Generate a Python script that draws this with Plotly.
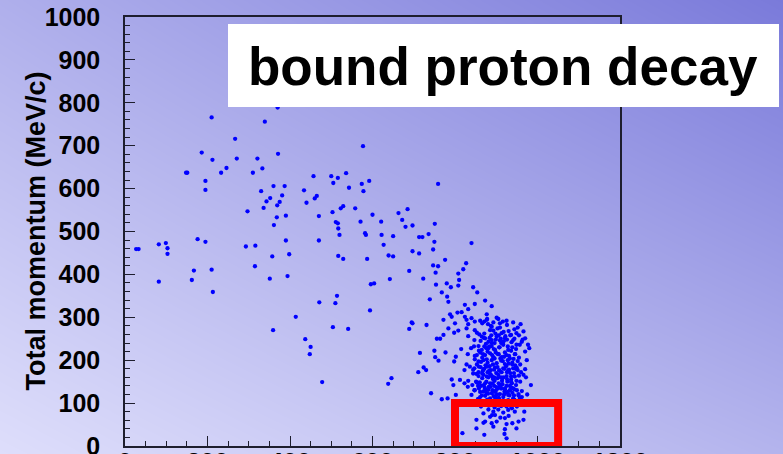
import plotly.graph_objects as go

# ---------------- data ----------------
# invariant mass (MeV/c^2) vs total momentum (MeV/c)
scatter_x = [
    27, 33, 82, 99, 103, 103, 82, 148, 151, 176, 195, 167, 162, 210,
    210, 339, 370, 267, 186, 212, 271, 321, 371, 233, 246, 310, 333, 195, 195,
    360, 387, 330, 352, 343, 381, 375, 369, 336, 297, 368, 390, 361,
    434, 457, 440, 460, 465, 470, 500, 505, 516, 536, 543, 577, 574, 578, 592,
    503, 523, 529, 558, 511, 516, 517, 520, 571, 582, 584, 600, 621, 622, 627, 650, 663,
    639, 650, 587, 529, 517, 470, 398, 390, 357, 316, 293, 315, 351, 394, 642,
    213, 359, 414, 759, 672, 685, 680, 697, 713, 721, 736, 751, 750, 747, 697, 713,
    596, 604, 689, 723, 747, 759, 776, 827, 840, 820,
    514, 510, 471, 594, 504, 541, 437, 450, 448, 478,
    695, 697, 689, 646, 638, 715, 724, 711,
]
scatter_y = [
    459, 459, 470, 473, 461, 448, 383, 637, 637, 482, 476, 409, 387, 411,
    766, 756, 789, 716, 684, 667, 670, 670, 681, 637, 648, 637, 647, 618, 597,
    606, 606, 594, 578, 570, 584, 569, 561, 555, 547, 533, 537, 515,
    596, 629, 567, 577, 583, 536, 629, 613, 625, 636, 602, 699, 611, 594, 618,
    545, 554, 559, 554, 522, 519, 507, 492, 523, 496, 492, 539, 523, 492, 469, 489, 543,
    444, 442, 436, 436, 443, 479, 447, 479, 442, 467, 465, 419, 390, 396, 389,
    359, 270, 301, 611, 527, 552, 511, 514, 487, 487, 494, 518, 476, 458, 454, 449,
    377, 379, 408, 390, 421, 419, 434, 426, 473, 412,
    350, 333, 335, 316, 277, 273, 249, 231, 214, 149,
    288, 286, 273, 158, 145, 217, 183, 172,
]

cluster_x = [
    753, 808, 810, 808, 754, 780, 790, 768, 781, 844, 854, 739, 784, 824, 832, 848, 873, 889,
    806, 816, 788, 792, 824, 840, 877, 901, 909, 925, 959, 772, 731, 800, 828, 832, 848, 861,
    871, 877, 784, 808, 798, 828, 848, 853, 889, 893, 913, 936, 949, 966, 756, 764, 772, 832,
    847, 865, 873, 881, 889, 901, 909, 921, 941, 962, 970, 815, 839, 857, 865, 871, 881, 889,
    897, 907, 917, 929, 939, 949, 980, 750, 777, 831, 853, 861, 873, 885, 893, 904, 913, 925,
    933, 945, 970, 752, 802, 848, 857, 869, 879, 889, 901, 912, 921, 939, 958, 974, 760, 798,
    828, 836, 847, 858, 869, 877, 887, 897, 907, 917, 929, 941, 952, 970, 730, 823, 844, 857,
    866, 877, 885, 895, 905, 915, 925, 936, 945, 966, 792, 812, 823, 832, 842, 853, 863, 873,
    882, 891, 901, 912, 921, 933, 944, 984, 796, 831, 848, 858, 869, 881, 889, 899, 909, 920,
    929, 939, 954, 742, 768, 782, 802, 840, 861, 873, 885, 897, 907, 917, 929, 941, 962, 877,
    889, 901, 912, 923, 936, 958, 863, 881, 893, 905, 917, 929, 945, 968, 869, 885, 897, 921,
    873, 889, 901, 925, 939, 954, 966, 852, 869, 893, 921, 949, 852, 818, 871, 920, 925,
    862, 875, 884, 896, 906, 918, 928, 937, 948, 957,
    858, 868, 879, 890, 899, 910, 921, 931, 942, 952,
    853, 863, 874, 883, 892, 903, 913, 924, 934, 946,
    857, 866, 876, 887, 896, 906, 917, 927, 938, 949,
    851, 861, 872, 880, 891, 902, 912, 922, 933, 943,
    856, 866, 878, 888, 898, 908, 918, 931, 940, 952,
    846, 871, 885, 903, 918, 926, 944, 955, 964, 977,
    848, 859, 883, 894, 908, 916, 930, 947, 960, 972,
    844, 852, 867, 879, 890, 900, 911, 926, 936, 958,
    847, 856, 870, 885, 895, 904, 915, 925, 937, 950,
    865, 876, 894, 906, 919, 928, 941, 954, 962, 975,
    880, 893, 905, 898, 911, 922, 934, 944, 889, 876,
    866, 878, 887, 909, 930, 941, 952, 916, 870, 888,
    899, 912, 926, 936, 946, 955, 866, 877, 896, 906,
    919, 928, 939, 950, 862, 871, 884, 895, 908, 920,
    931, 943, 955, 869, 881, 892, 903, 914, 926, 936,
    948, 860, 874, 886, 897, 909, 921, 932, 944, 957,
    868, 882, 896, 911, 925, 938, 950, 890, 910, 930,
]
cluster_y = [
    404, 402, 387, 374, 376, 379, 370, 358, 348, 370, 358, 342, 336, 329, 319, 331, 339, 326,
    311, 312, 307, 301, 301, 298, 307, 299, 286, 292, 284, 294, 282, 286, 294, 284, 290, 292,
    290, 294, 274, 269, 264, 274, 270, 264, 278, 269, 263, 259, 263, 267, 250, 250, 259, 256,
    247, 255, 251, 243, 247, 255, 246, 251, 247, 243, 251, 226, 228, 233, 224, 232, 228, 233,
    224, 230, 236, 224, 230, 236, 228, 222, 218, 214, 212, 218, 212, 216, 207, 214, 207, 212,
    204, 214, 220, 207, 208, 202, 197, 200, 194, 200, 193, 199, 191, 194, 190, 200, 199, 197,
    190, 185, 181, 185, 179, 185, 177, 183, 176, 181, 176, 181, 177, 179, 177, 177, 169, 163,
    169, 162, 168, 160, 166, 158, 163, 155, 162, 166, 155, 154, 146, 152, 142, 148, 140, 146,
    138, 146, 137, 142, 134, 140, 132, 142, 142, 138, 130, 134, 127, 131, 123, 129, 121, 127,
    119, 124, 121, 123, 109, 111, 119, 119, 114, 117, 111, 115, 109, 114, 107, 111, 114, 101,
    96, 101, 93, 100, 92, 96, 92, 85, 80, 85, 78, 84, 80, 80, 76, 68, 72, 65,
    57, 53, 57, 51, 53, 57, 61, 61, 54, 45, 39, 41, 41, 30, 26, 28, 18,
    245, 238, 252, 240, 258, 244, 232, 242, 226, 236,
    222, 214, 220, 212, 218, 204, 218, 210, 203, 198,
    190, 196, 188, 176, 190, 184, 172, 186, 170, 188,
    172, 158, 150, 166, 152, 146, 160, 150, 146, 152,
    150, 126, 136, 122, 130, 120, 134, 124, 130, 118,
    110, 104, 108, 102, 110, 100, 105, 102, 98, 104,
    232, 262, 270, 274, 266, 282, 272, 258, 248, 236,
    210, 260, 232, 226, 230, 198, 192, 180, 172, 160,
    178, 168, 174, 172, 162, 170, 160, 172, 162, 150,
    130, 140, 142, 146, 140, 134, 144, 140, 136, 130,
    118, 124, 116, 112, 120, 126, 134, 118, 128, 120,
    284, 288, 296, 262, 250, 256, 258, 250, 240, 228,
    286, 296, 280, 276, 268, 288, 276, 290, 252, 258,
    248, 240, 248, 222, 214, 206, 206, 202, 204, 214,
    208, 200, 190, 182, 184, 180, 186, 178, 176, 180,
    178, 170, 164, 166, 160, 156, 158, 152, 156, 150,
    142, 148, 132, 138, 126, 140, 132, 118, 108, 112,
    96, 94, 90, 94, 92, 88, 92, 72, 66, 70,
]

points_x = scatter_x + cluster_x
points_y = scatter_y + cluster_y

x_ticks = [0, 200, 400, 600, 800, 1000, 1200]
y_ticks = [0, 100, 200, 300, 400, 500, 600, 700, 800, 900, 1000]
y_title = "Total momentum (MeV/c)"
title_text = "bound proton decay"
signal_box = dict(x0=800, x1=1050, y0=0, y1=100)

# background gradient corners: [bottom-left, bottom-right], [top-left, top-right]
bg_z = [[0.0, 0.42], [0.47, 1.0]]

# ---------------- figure ----------------
W, H = 783, 454
px_l, px_r, px_t, px_b = 125, 620, 17, 446
FONT = "Liberation Sans, Arial, Helvetica, sans-serif"

fig = go.Figure()

fig.add_trace(go.Heatmap(
    x=[0, 1], y=[0, 1], z=bg_z, zsmooth="best", showscale=False,
    colorscale=[[0, "rgb(222,222,251)"], [1, "rgb(122,122,218)"]],
    hoverinfo="skip", xaxis="x", yaxis="y",
))

fig.add_trace(go.Scatter(
    x=points_x, y=points_y, mode="markers",
    marker=dict(color="#0000ff", size=4.3, line=dict(width=0)),
    xaxis="x2", yaxis="y2", showlegend=False, cliponaxis=True,
))

axis_common = dict(
    showgrid=False, zeroline=False, showline=True, linecolor="#1e1e2e",
    linewidth=1.5, mirror=True, ticks="inside", ticklen=10, tickwidth=1.3,
    tickcolor="#1e1e2e", automargin=False, ticklabeloverflow="allow",
    tickfont=dict(family=FONT, size=25, color="#000000", weight="bold"),
)

fig.update_layout(
    width=W, height=H, autosize=False,
    margin=dict(l=0, r=0, t=0, b=0, pad=0, autoexpand=False),
    paper_bgcolor="#ffffff",
    plot_bgcolor="rgba(0,0,0,0)",
    showlegend=False,
    xaxis=dict(domain=[0, 1], range=[0, 1], visible=False, fixedrange=True, automargin=False),
    yaxis=dict(domain=[0, 1], range=[0, 1], visible=False, fixedrange=True, automargin=False),
    xaxis2=dict(
        domain=[px_l / W, px_r / W], range=[0, 1200], anchor="y2",
        tickvals=x_ticks, ticktext=[str(v) for v in x_ticks],
        minor=dict(ticks="inside", ticklen=5, dtick=50, tickcolor="#1e1e2e", showgrid=False),
        ticklabelstandoff=-7,
        **axis_common,
    ),
    yaxis2=dict(
        domain=[(H - px_b) / H, (H - px_t) / H], range=[0, 1000], anchor="x2",
        tickvals=y_ticks, ticktext=[str(v) for v in y_ticks],
        minor=dict(ticks="inside", ticklen=5, dtick=20, tickcolor="#1e1e2e", showgrid=False),
        ticklabelstandoff=18,
        **axis_common,
    ),
)

# red signal box
fig.add_shape(type="rect", xref="x2", yref="y2", layer="above",
              line=dict(color="#ff0000", width=8), fillcolor="rgba(0,0,0,0)",
              **signal_box)

# white title box
bx0, bx1, by0, by1 = 228, 779, 24, 107
fig.add_shape(type="rect", xref="paper", yref="paper", layer="above",
              x0=bx0 / W, x1=bx1 / W, y0=1 - by1 / H, y1=1 - by0 / H,
              line=dict(width=0), fillcolor="#ffffff")
fig.add_annotation(xref="paper", yref="paper", x=503 / W, y=1 - 66 / H,
                   xanchor="center", yanchor="middle", showarrow=False,
                   text=title_text,
                   font=dict(family=FONT, size=53, color="#000000", weight="bold"))

# y axis title
fig.add_annotation(xref="paper", yref="paper", x=35 / W, y=1 - 231.5 / H,
                   xanchor="center", yanchor="middle", showarrow=False,
                   textangle=-90, text=y_title,
                   font=dict(family=FONT, size=27, color="#000000", weight="bold"))

fig.write_html("out.html")
